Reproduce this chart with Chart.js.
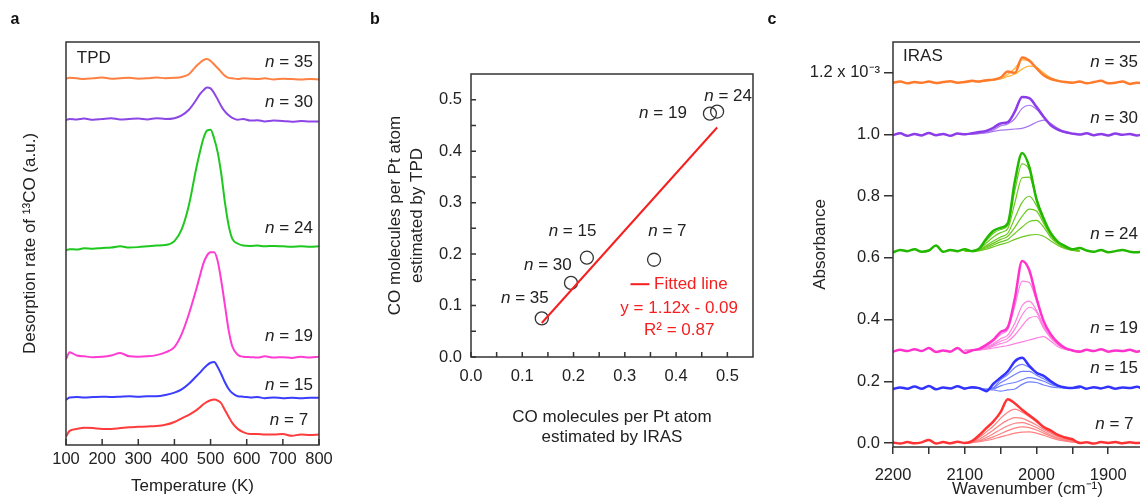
<!DOCTYPE html>
<html>
<head>
<meta charset="utf-8">
<title>TPD / IRAS</title>
<script src="https://cdn.jsdelivr.net/npm/chart.js@4.4.1/dist/chart.umd.min.js"></script>
<style>
  html, body { margin: 0; padding: 0; background: #fff; overflow: hidden; }
  body { position: relative; width: 1140px; height: 500px; }
  canvas { position: absolute; top: 0; }
</style>
</head>
<body>
<canvas id="tpd" width="340" height="500" style="left:0"></canvas>
<canvas id="fit" width="430" height="500" style="left:340px"></canvas>
<canvas id="iras" width="427" height="500" style="left:755px"></canvas>
<script>
"use strict";

// ---- panel a: TPD (a.u., curves stacked) ----
const tpdT = [100, 110, 130, 150, 175, 200, 225, 250, 275, 300, 325, 350, 375, 400, 420, 440, 460, 470, 480, 490,
  500, 510, 520, 530, 540, 550, 560, 575, 590, 610, 630, 650, 675, 700, 725, 750, 775, 800];
const tpd35 = [90.9, 91.1, 91.0, 90.8, 91.0, 91.2, 90.9, 91.0, 91.1, 90.9, 91.0, 91.2, 91.0, 91.1, 91.3, 92.0, 94.0, 94.8, 95.5, 95.8,
  95.3, 94.4, 93.5, 92.5, 91.6, 91.1, 91.0, 90.8, 91.0, 90.9, 90.8, 91.0, 90.7, 90.9, 90.8, 90.7, 90.8, 90.7];
const tpd30 = [80.6, 80.9, 80.8, 81.0, 80.7, 80.9, 81.1, 80.8, 80.9, 81.0, 80.8, 81.1, 80.9, 81.1, 81.8, 83.2, 85.6, 87.0, 88.0, 88.7,
  88.5, 87.3, 85.7, 84.0, 82.7, 81.8, 81.2, 80.7, 80.9, 80.5, 80.6, 80.3, 80.5, 80.4, 80.2, 80.4, 80.3, 80.3];
const tpd24 = [48.3, 48.6, 48.5, 48.8, 48.7, 48.9, 49.0, 49.3, 49.0, 49.1, 49.3, 49.5, 49.6, 50.6, 53.5, 59.5, 68.5, 72.5, 76.0, 78.0,
  78.2, 76.0, 72.5, 67.0, 60.0, 54.5, 51.2, 50.0, 49.5, 49.4, 49.5, 49.3, 49.4, 49.3, 49.2, 49.3, 49.2, 49.3];
const tpd19 = [21.3, 23.0, 22.2, 22.0, 21.8, 21.9, 22.2, 22.8, 22.0, 21.9, 22.0, 22.3, 23.0, 24.3, 27.5, 32.5, 38.5, 41.8, 45.0, 47.0,
  47.8, 47.8, 45.5, 40.5, 34.5, 28.5, 24.5, 22.4, 21.9, 21.8, 21.7, 22.0, 21.7, 21.8, 21.6, 21.9, 21.7, 21.9];
const tpd15 = [11.2, 11.8, 11.9, 11.8, 11.9, 12.0, 11.9, 12.0, 12.1, 12.0, 12.1, 12.1, 12.4, 13.0, 13.8, 15.2, 17.0, 17.9, 18.9, 19.8,
  20.4, 20.6, 19.3, 17.5, 15.5, 13.9, 12.9, 12.1, 12.0, 11.8, 11.9, 11.6, 11.8, 11.6, 11.7, 11.6, 11.7, 11.7];
const tpd7 = [2.1, 3.5, 4.0, 4.3, 4.2, 4.0, 4.0, 4.2, 4.4, 4.5, 4.6, 4.7, 5.0, 5.7, 6.6, 7.5, 8.6, 9.3, 10.1, 10.7,
  11.1, 11.3, 11.0, 10.3, 8.6, 7.0, 5.5, 4.0, 3.2, 2.7, 2.7, 2.6, 2.6, 2.7, 2.3, 2.6, 2.5, 2.6];
const tpdTicks = [100, 200, 300, 400, 500, 600, 700, 800];

// ---- panel b: CO per Pt atom ----
const ptNames = ["n = 35", "n = 30", "n = 15", "n = 7", "n = 19", "n = 24"];
const ptIras = [0.138, 0.195, 0.226, 0.357, 0.466, 0.480];
const ptTpd = [0.075, 0.144, 0.193, 0.189, 0.473, 0.477];
const fitX = [0.138, 0.480];
const fitY = [0.066, 0.446];
const fitTicks = [0, 0.05, 0.1, 0.15, 0.2, 0.25, 0.3, 0.35, 0.4, 0.45, 0.5];

// ---- panel c: IRAS (absorbance x 10^-3, stacked) ----
const irasW = [2200, 2190, 2180, 2170, 2160, 2150, 2140, 2130, 2120, 2110, 2100, 2090, 2080, 2070, 2060, 2050, 2040, 2030, 2020, 2010,
  2000, 1990, 1980, 1970, 1960, 1950, 1940, 1930, 1920, 1910, 1900, 1890, 1880, 1870, 1860, 1850, 1840];
const irasPk = [2100, 2090, 2080, 2070, 2060, 2050, 2040, 2030, 2020, 2010, 2000, 1990, 1980, 1970, 1960, 1950, 1940];

const ir35 = [1.168, 1.172, 1.166, 1.170, 1.168, 1.172, 1.167, 1.170, 1.173, 1.168, 1.170, 1.174, 1.172, 1.176, 1.178, 1.185, 1.204, 1.200, 1.250, 1.240,
  1.215, 1.192, 1.180, 1.174, 1.170, 1.168, 1.172, 1.166, 1.170, 1.174, 1.166, 1.168, 1.172, 1.164, 1.168, 1.166, 1.165];
const ir30 = [0.998, 1.004, 0.996, 1.002, 0.997, 1.005, 0.998, 1.002, 0.996, 1.003, 1.001, 1.004, 1.008, 1.012, 1.022, 1.036, 1.040, 1.075, 1.122, 1.118,
  1.090, 1.058, 1.030, 1.016, 1.008, 1.003, 1.000, 1.004, 0.998, 1.002, 0.997, 1.003, 0.999, 1.002, 0.997, 1.001, 0.998];
const ir24 = [0.618, 0.626, 0.622, 0.628, 0.620, 0.624, 0.640, 0.620, 0.626, 0.622, 0.628, 0.622, 0.630, 0.662, 0.688, 0.698, 0.712, 0.850, 0.940, 0.895,
  0.790, 0.728, 0.680, 0.652, 0.638, 0.628, 0.632, 0.624, 0.620, 0.626, 0.618, 0.622, 0.626, 0.620, 0.618, 0.622, 0.620];
const ir19 = [0.296, 0.302, 0.298, 0.304, 0.298, 0.308, 0.295, 0.300, 0.296, 0.308, 0.292, 0.300, 0.305, 0.318, 0.335, 0.360, 0.375, 0.470, 0.590, 0.560,
  0.470, 0.395, 0.352, 0.325, 0.308, 0.300, 0.296, 0.302, 0.298, 0.304, 0.296, 0.300, 0.298, 0.302, 0.296, 0.300, 0.298];
const ir15 = [0.175, 0.180, 0.176, 0.183, 0.176, 0.185, 0.174, 0.180, 0.177, 0.184, 0.176, 0.181, 0.178, 0.168, 0.192, 0.212, 0.232, 0.265, 0.276, 0.250,
  0.228, 0.218, 0.200, 0.186, 0.180, 0.178, 0.183, 0.176, 0.181, 0.177, 0.182, 0.176, 0.180, 0.178, 0.182, 0.176, 0.180];
const ir7 = [0.002, -0.002, 0.003, -0.001, 0.002, 0.010, -0.002, 0.003, -0.001, 0.004, 0.000, 0.006, 0.025, 0.048, 0.070, 0.100, 0.142, 0.128, 0.108, 0.090,
  0.072, 0.052, 0.040, 0.026, 0.018, 0.012, 0.000, 0.002, -0.002, 0.003, 0.000, 0.003, -0.001, 0.002, 0.000, 0.002, 0.000];

// thinner, lower-coverage spectra (peak region only)
const ir35a = [1.170, 1.172, 1.171, 1.174, 1.176, 1.180, 1.188, 1.196, 1.212, 1.222, 1.218, 1.200, 1.184, 1.176, 1.171, 1.169, 1.170];
const ir35b = [1.170, 1.172, 1.172, 1.175, 1.178, 1.184, 1.195, 1.215, 1.242, 1.238, 1.214, 1.194, 1.181, 1.174, 1.170, 1.168, 1.170];
const ir30a = [1.000, 1.002, 1.004, 1.008, 1.015, 1.028, 1.034, 1.052, 1.085, 1.095, 1.082, 1.055, 1.030, 1.014, 1.006, 1.002, 1.000];
const ir30b = [1.000, 1.001, 1.003, 1.005, 1.010, 1.014, 1.016, 1.018, 1.020, 1.028, 1.040, 1.047, 1.036, 1.020, 1.008, 1.003, 1.000];
const ir24a = [0.622, 0.624, 0.630, 0.655, 0.680, 0.692, 0.705, 0.820, 0.905, 0.885, 0.795, 0.728, 0.680, 0.652, 0.636, 0.628, 0.624];
const ir24b = [0.622, 0.624, 0.628, 0.648, 0.668, 0.682, 0.695, 0.780, 0.860, 0.862, 0.790, 0.726, 0.680, 0.652, 0.636, 0.628, 0.624];
const ir24c = [0.622, 0.623, 0.626, 0.640, 0.655, 0.668, 0.680, 0.730, 0.780, 0.800, 0.770, 0.720, 0.676, 0.650, 0.635, 0.627, 0.623];
const ir24d = [0.622, 0.623, 0.625, 0.636, 0.648, 0.660, 0.670, 0.700, 0.735, 0.758, 0.752, 0.712, 0.672, 0.648, 0.634, 0.626, 0.622];
const ir24e = [0.622, 0.622, 0.624, 0.632, 0.642, 0.652, 0.660, 0.680, 0.700, 0.718, 0.722, 0.700, 0.666, 0.645, 0.632, 0.625, 0.622];
const ir24f = [0.622, 0.622, 0.623, 0.628, 0.636, 0.644, 0.650, 0.660, 0.668, 0.674, 0.676, 0.670, 0.655, 0.640, 0.630, 0.624, 0.622];
const ir19a = [0.300, 0.302, 0.306, 0.315, 0.330, 0.352, 0.368, 0.445, 0.525, 0.520, 0.462, 0.392, 0.350, 0.324, 0.308, 0.300, 0.298];
const ir19b = [0.300, 0.301, 0.304, 0.312, 0.322, 0.338, 0.350, 0.390, 0.445, 0.460, 0.430, 0.380, 0.345, 0.322, 0.308, 0.300, 0.298];
const ir19c = [0.300, 0.301, 0.303, 0.310, 0.318, 0.330, 0.340, 0.370, 0.415, 0.440, 0.425, 0.378, 0.343, 0.320, 0.306, 0.300, 0.298];
const ir19d = [0.300, 0.300, 0.302, 0.307, 0.314, 0.322, 0.330, 0.350, 0.380, 0.405, 0.410, 0.372, 0.340, 0.318, 0.305, 0.300, 0.298];
const ir19e = [0.300, 0.300, 0.301, 0.304, 0.308, 0.312, 0.316, 0.322, 0.328, 0.334, 0.340, 0.345, 0.330, 0.312, 0.303, 0.299, 0.298];
const ir15a = [0.178, 0.180, 0.178, 0.172, 0.180, 0.205, 0.222, 0.245, 0.255, 0.245, 0.228, 0.215, 0.198, 0.186, 0.180, 0.178, 0.179];
const ir15b = [0.178, 0.180, 0.178, 0.173, 0.178, 0.195, 0.208, 0.222, 0.232, 0.232, 0.220, 0.208, 0.195, 0.185, 0.180, 0.178, 0.179];
const ir15c = [0.178, 0.180, 0.178, 0.175, 0.176, 0.185, 0.192, 0.196, 0.205, 0.212, 0.208, 0.200, 0.190, 0.183, 0.179, 0.178, 0.179];
const ir15d = [0.178, 0.179, 0.177, 0.174, 0.172, 0.168, 0.172, 0.175, 0.190, 0.198, 0.196, 0.188, 0.182, 0.179, 0.178, 0.178, 0.179];
const ir7a = [0.000, 0.004, 0.018, 0.036, 0.055, 0.080, 0.100, 0.110, 0.100, 0.085, 0.068, 0.050, 0.036, 0.024, 0.015, 0.008, 0.002];
const ir7b = [0.000, 0.003, 0.012, 0.026, 0.042, 0.060, 0.074, 0.082, 0.080, 0.070, 0.058, 0.044, 0.032, 0.020, 0.012, 0.006, 0.002];
const ir7c = [0.000, 0.002, 0.008, 0.018, 0.030, 0.044, 0.056, 0.064, 0.066, 0.060, 0.050, 0.038, 0.026, 0.016, 0.010, 0.005, 0.002];
const ir7d = [0.000, 0.002, 0.006, 0.012, 0.020, 0.030, 0.040, 0.048, 0.052, 0.050, 0.042, 0.032, 0.022, 0.014, 0.008, 0.004, 0.002];
const ir7e = [0.000, 0.001, 0.004, 0.008, 0.013, 0.020, 0.026, 0.032, 0.035, 0.036, 0.032, 0.025, 0.017, 0.010, 0.006, 0.003, 0.001];
const irasYTicks = [0, 0.2, 0.4, 0.6, 0.8, 1.0, 1.2];
const irasXTicks = [2200, 2150, 2100, 2050, 2000, 1950, 1900, 1850];

const FONT = '"Liberation Sans", Arial, sans-serif';
const INK = "#333";
const RED = "#f51f1f";

Chart.defaults.font.family = FONT;
Chart.defaults.font.size = 16.5;
Chart.defaults.color = "#222";

function pts(xs, ys) {
  return xs.map((x, i) => ({ x, y: ys[i] }));
}

function drawLabel(ctx, text, x, y, align, color) {
  let head = "";
  let rest = text;
  if (text.startsWith("n = ")) {
    head = "n";
    rest = text.slice(1);
  }
  ctx.textBaseline = "middle";
  ctx.textAlign = "left";
  ctx.fillStyle = color || "#222";
  ctx.font = "italic 17px " + FONT;
  const wh = head ? ctx.measureText(head).width : 0;
  ctx.font = "17px " + FONT;
  const w = wh + ctx.measureText(rest).width;
  const x0 = align === "right" ? x - w : align === "center" ? x - w / 2 : x;
  if (head) {
    ctx.font = "italic 17px " + FONT;
    ctx.fillText(head, x0, y);
    ctx.font = "17px " + FONT;
  }
  ctx.fillText(rest, x0 + wh, y);
}

// frame, inward ticks, panel letter and text notes
function decor(cfg) {
  return {
    id: "decor",
    afterDraw(chart) {
      const { ctx, chartArea: a } = chart;
      const { x, y } = chart.scales;
      ctx.save();
      ctx.strokeStyle = INK;
      ctx.lineWidth = 1.5;
      ctx.strokeRect(a.left, a.top, a.right - a.left, a.bottom - a.top);
      ctx.beginPath();
      if (cfg.tickX) {
        x.ticks.forEach(t => {
          const p = x.getPixelForValue(t.value);
          ctx.moveTo(p, a.bottom);
          ctx.lineTo(p, a.bottom - cfg.tickX);
        });
      }
      if (cfg.tickY) {
        y.ticks.forEach(t => {
          const p = y.getPixelForValue(t.value);
          ctx.moveTo(a.left, p);
          ctx.lineTo(a.left + cfg.tickY, p);
        });
      }
      ctx.stroke();
      if (cfg.key) {
        const [x1, x2, ky] = cfg.key;
        ctx.strokeStyle = RED;
        ctx.lineWidth = 2;
        ctx.beginPath();
        ctx.moveTo(x.getPixelForValue(x1), y.getPixelForValue(ky));
        ctx.lineTo(x.getPixelForValue(x2), y.getPixelForValue(ky));
        ctx.stroke();
      }
      (cfg.notes || []).forEach(n =>
        drawLabel(ctx, n[0], x.getPixelForValue(n[1]), y.getPixelForValue(n[2]), n[3], n[4])
      );
      ctx.font = "bold 16px " + FONT;
      ctx.fillStyle = "#111";
      ctx.textAlign = "center";
      ctx.textBaseline = "middle";
      ctx.fillText(cfg.letter, cfg.letterX, 20);
      ctx.restore();
    }
  };
}

const common = {
  responsive: false,
  animation: false,
  plugins: { legend: { display: false }, tooltip: { enabled: false } }
};
const titleFont = { size: 17 };

// ---------- a ----------
const tpdSeries = [
  [tpd35, "#ff8040"],
  [tpd30, "#8c46e6"],
  [tpd24, "#1ec81e"],
  [tpd19, "#ff3cd2"],
  [tpd15, "#3a3cff"],
  [tpd7, "#ff3c3c"]
];

new Chart(document.getElementById("tpd"), {
  type: "line",
  data: {
    datasets: tpdSeries.map(([vals, color]) => ({
      data: pts(tpdT, vals),
      borderColor: color,
      borderWidth: 2,
      pointRadius: 0,
      cubicInterpolationMode: "monotone"
    }))
  },
  options: {
    ...common,
    layout: { padding: { top: 42, right: 21, left: 0, bottom: 0 } },
    scales: {
      x: {
        type: "linear",
        min: 100,
        max: 800,
        afterBuildTicks: s => { s.ticks = tpdTicks.map(v => ({ value: v })); },
        grid: { display: false },
        border: { display: false },
        ticks: { padding: -3, maxRotation: 0 },
        title: { display: true, text: "Temperature (K)", font: titleFont, padding: { top: 0, bottom: 3 } },
        afterFit: s => { s.height = 55; }
      },
      y: {
        min: 0,
        max: 100,
        ticks: { display: false },
        grid: { display: false },
        border: { display: false },
        title: { display: true, text: "Desorption rate of \u00B9\u00B3CO (a.u.)", font: titleFont, padding: { top: 20, bottom: 0 } },
        afterFit: s => { s.width = 66; }
      }
    }
  },
  plugins: [decor({
    letter: "a", letterX: 15, tickX: 6,
    notes: [
      ["TPD", 130, 96.0, "left"],
      ["n = 35", 783, 95.0, "right"],
      ["n = 30", 783, 85.1, "right"],
      ["n = 24", 783, 53.7, "right"],
      ["n = 19", 783, 26.9, "right"],
      ["n = 15", 783, 14.9, "right"],
      ["n = 7", 770, 6.2, "right"]
    ]
  })]
});

// ---------- b ----------
const fitAxis = {
  min: 0,
  max: 0.55,
  afterBuildTicks: s => { s.ticks = fitTicks.map(v => ({ value: v })); },
  grid: { display: false },
  border: { display: false },
  ticks: {
    maxRotation: 0,
    autoSkip: false,
    callback: v => (Math.round(v * 100) % 10 === 0 ? v.toFixed(1) : "")
  }
};

new Chart(document.getElementById("fit"), {
  type: "scatter",
  data: {
    datasets: [
      {
        data: pts(fitX, fitY),
        showLine: true,
        borderColor: RED,
        borderWidth: 2,
        pointRadius: 0
      },
      {
        data: pts(ptIras, ptTpd),
        pointRadius: 6.5,
        pointBorderWidth: 1.3,
        pointBorderColor: INK,
        pointBackgroundColor: "rgba(0,0,0,0)"
      }
    ]
  },
  options: {
    ...common,
    layout: { padding: { top: 74, right: 17, left: 0, bottom: 0 } },
    scales: {
      x: {
        ...fitAxis,
        type: "linear",
        ticks: { ...fitAxis.ticks, padding: 2 },
        title: {
          display: true,
          text: ["CO molecules per Pt atom", "estimated by IRAS"],
          font: { size: 17, lineHeight: 1.2 },
          padding: { top: 0, bottom: 52 }
        },
        afterFit: s => { s.height = 143; }
      },
      y: {
        ...fitAxis,
        ticks: { ...fitAxis.ticks, padding: 1 },
        title: {
          display: true,
          text: ["CO molecules per Pt atom", "estimated by TPD"],
          font: { size: 17, lineHeight: 1.3 },
          padding: { top: 44, bottom: 0 }
        },
        afterFit: s => { s.width = 131; }
      }
    }
  },
  plugins: [decor({
    letter: "b", letterX: 35, tickX: 5, tickY: 5,
    key: [0.311, 0.348, 0.1415],
    notes: [
      [ptNames[5], 0.455, 0.506, "left"],
      [ptNames[4], 0.421, 0.473, "right"],
      [ptNames[2], 0.198, 0.244, "center"],
      [ptNames[3], 0.383, 0.244, "center"],
      [ptNames[1], 0.150, 0.178, "center"],
      [ptNames[0], 0.105, 0.114, "center"],
      ["Fitted line", 0.357, 0.1415, "left", RED],
      ["y = 1.12x - 0.09", 0.406, 0.095, "center", RED],
      ["R\u00B2 = 0.87", 0.406, 0.052, "center", RED]
    ]
  })]
});

// ---------- c ----------
const irasGroups = [
  [ir35, "#ff7a2a", [ir35a, ir35b], "#ffb13a"],
  [ir30, "#8c3ce8", [ir30a, ir30b], "#a877f0"],
  [ir24, "#22b800", [ir24a, ir24b, ir24c, ir24d, ir24e, ir24f], "#6ac81e"],
  [ir19, "#ff33cc", [ir19a, ir19b, ir19c, ir19d, ir19e], "#ff80e0"],
  [ir15, "#3333ff", [ir15a, ir15b, ir15c, ir15d], "#7080ff"],
  [ir7, "#ff3333", [ir7a, ir7b, ir7c, ir7d, ir7e], "#ff8080"]
];
const thick = irasGroups.map(([vals, color]) => ({
  data: pts(irasW, vals),
  borderColor: color,
  borderWidth: 2.5,
  pointRadius: 0,
  cubicInterpolationMode: "monotone"
}));
const thin = irasGroups.flatMap(([, , lines, color]) => lines.map(vals => ({
  data: pts(irasPk, vals),
  borderColor: color,
  borderWidth: 1.2,
  pointRadius: 0,
  cubicInterpolationMode: "monotone"
})));

new Chart(document.getElementById("iras"), {
  type: "line",
  data: { datasets: thick.concat(thin) },
  options: {
    ...common,
    layout: { padding: { top: 42, right: 20, left: 0, bottom: 0 } },
    scales: {
      x: {
        type: "linear",
        reverse: true,
        min: 1825,
        max: 2200,
        afterBuildTicks: s => { s.ticks = irasXTicks.map(v => ({ value: v })); },
        grid: { drawOnChartArea: false, drawTicks: true, tickLength: 7, color: INK, lineWidth: 1.5 },
        border: { display: false },
        ticks: { padding: 12, maxRotation: 0, autoSkip: false, callback: v => (v % 100 === 0 ? String(v) : "") },
        title: { display: true, text: "Wavenumber (cm\u207B\u00B9)", font: titleFont, padding: { top: 0, bottom: 0 } },
        afterFit: s => { s.height = 53; }
      },
      y: {
        min: -0.013,
        max: 1.30,
        afterBuildTicks: s => { s.ticks = irasYTicks.map(v => ({ value: v })); },
        grid: { drawOnChartArea: false, drawTicks: true, tickLength: 9, color: INK, lineWidth: 1.5 },
        border: { display: false },
        ticks: { padding: 4, callback: v => (v === 1.2 ? "1.2 x 10\u207B\u00B3" : v.toFixed(1)) },
        title: { display: true, text: "Absorbance", font: titleFont, padding: { top: 55, bottom: 0 } },
        afterFit: s => { s.width = 138; }
      }
    }
  },
  plugins: [decor({
    letter: "c", letterX: 17,
    notes: [
      ["IRAS", 2186, 1.255, "left"],
      ["n = 35", 1925, 1.233, "left"],
      ["n = 30", 1925, 1.054, "left"],
      ["n = 24", 1925, 0.676, "left"],
      ["n = 19", 1925, 0.371, "left"],
      ["n = 15", 1925, 0.241, "left"],
      ["n = 7", 1918, 0.062, "left"]
    ]
  })]
});
</script>
</body>
</html>
